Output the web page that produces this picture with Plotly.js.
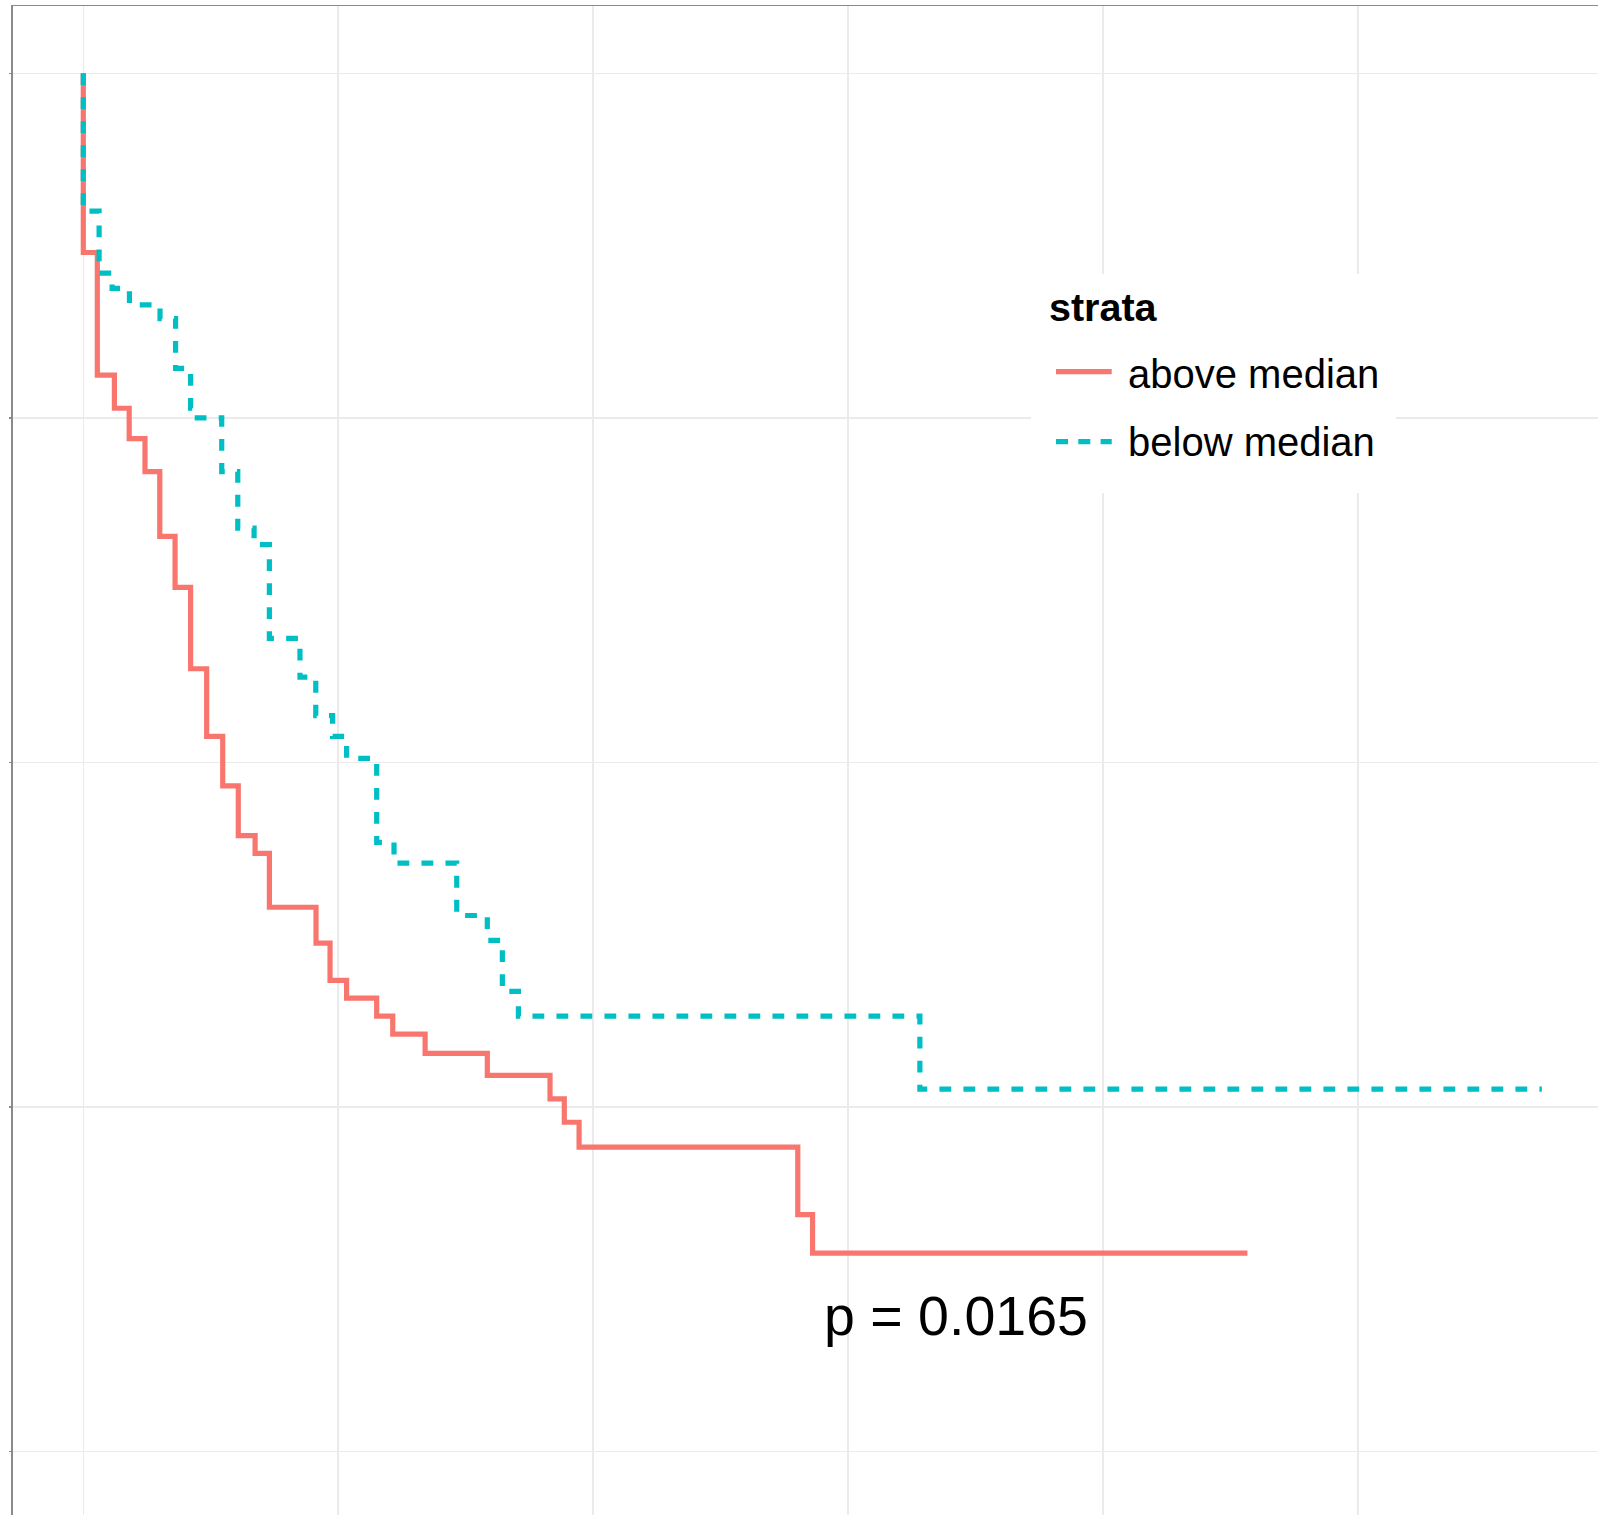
<!DOCTYPE html>
<html><head><meta charset="utf-8">
<script src="https://cdn.plot.ly/plotly-3.0.1.min.js"></script>
<style>html,body{margin:0;padding:0;background:#fff;overflow:hidden}#chart{width:1598px;height:1515px}</style>
</head><body><div id="chart"></div>
<script>
// ---- data ----
const seriesNames = ['above median', 'below median'];
const seriesColors = ['#F8766D', '#00BFC4'];
const legendTitle = 'strata';
const pValueText = 'p = 0.0165';

const aboveTime = [0, 0, 0.55, 1.22, 1.80, 2.42, 3.00, 3.60, 4.21, 4.84, 5.47, 6.08, 6.74, 7.30, 9.13, 9.68, 10.33, 11.51, 12.14, 13.41, 15.85, 18.31, 18.87, 19.45, 28.03, 28.61, 45.67];
const aboveSurv = [1, 0.870, 0.781, 0.757, 0.735, 0.711, 0.664, 0.627, 0.568, 0.519, 0.483, 0.447, 0.434, 0.395, 0.369, 0.342, 0.329, 0.316, 0.303, 0.289, 0.273, 0.256, 0.239, 0.221, 0.172, 0.144, 0.144];

const belowTime = [0, 0, 0.62, 1.13, 1.81, 3.01, 3.62, 4.21, 4.34, 5.43, 6.06, 6.70, 7.30, 8.50, 9.12, 9.78, 10.33, 11.51, 12.19, 14.65, 15.85, 16.44, 17.07, 32.82, 57.22];
const belowSurv = [1, 0.900, 0.855, 0.844, 0.832, 0.822, 0.786, 0.757, 0.750, 0.711, 0.670, 0.658, 0.590, 0.562, 0.534, 0.519, 0.503, 0.442, 0.427, 0.389, 0.371, 0.334, 0.316, 0.263, 0.263];

const xTicks = [0, 10, 20, 30, 40, 50];
const yTicks = [0, 0.25, 0.5, 0.75, 1];

// ---- layout geometry ----
const W = 1598, H = 1515, ML = 13, MT = 6;
const PW = W - ML, PH = H - MT;
const fx = px => (px - ML) / PW;
const fy = py => (H - py) / PH;
const FONT = 'Liberation Sans, Arial, Helvetica, sans-serif';

const traces = [
  {x: aboveTime, y: aboveSurv, name: seriesNames[0], type: 'scatter', mode: 'lines',
   line: {shape: 'hv', color: seriesColors[0], width: 5.2}, hoverinfo: 'skip', showlegend: false},
  {x: belowTime, y: belowSurv, name: seriesNames[1], type: 'scatter', mode: 'lines',
   line: {shape: 'hv', color: seriesColors[1], width: 5.2, dash: '11.8px,12.2px'}, hoverinfo: 'skip', showlegend: false}
];

const shapes = [
  {type: 'rect', xref: 'paper', yref: 'paper', x0: fx(1031), x1: fx(1396), y0: fy(493), y1: fy(274),
   fillcolor: '#ffffff', line: {width: 0}, layer: 'above'},
  {type: 'line', xref: 'paper', yref: 'paper', x0: fx(1056), x1: fx(1111.7), y0: fy(371.7), y1: fy(371.7),
   line: {color: seriesColors[0], width: 5.2}, layer: 'above'},
  {type: 'line', xref: 'paper', yref: 'paper', x0: fx(1056), x1: fx(1111.7), y0: fy(441.7), y1: fy(441.7),
   line: {color: seriesColors[1], width: 5.2, dash: '12px,10.3px'}, layer: 'above'}
];

const annotations = [
  {xref: 'paper', yref: 'paper', x: fx(1047), y: fy(307.2), xanchor: 'left', yanchor: 'middle', showarrow: false,
   text: '<b>' + legendTitle + '</b>', font: {family: FONT, size: 39.5, color: '#000'}},
  {xref: 'paper', yref: 'paper', x: fx(1125.5), y: fy(373.8), xanchor: 'left', yanchor: 'middle', showarrow: false,
   text: seriesNames[0], font: {family: FONT, size: 40, color: '#000'}},
  {xref: 'paper', yref: 'paper', x: fx(1125.5), y: fy(442.2), xanchor: 'left', yanchor: 'middle', showarrow: false,
   text: seriesNames[1], font: {family: FONT, size: 40, color: '#000'}},
  {xref: 'x', yref: 'y', x: 28.98, y: 0.0987, xanchor: 'left', yanchor: 'middle', showarrow: false,
   text: pValueText, font: {family: FONT, size: 55.5, color: '#000'}}
];

const layout = {
  width: W, height: H,
  margin: {l: ML, r: 0, t: MT, b: 0, pad: 0},
  paper_bgcolor: '#fff', plot_bgcolor: '#fff',
  showlegend: false,
  xaxis: {range: [(ML - 83.3) / 25.49, (W - 83.3) / 25.49], tickvals: xTicks, showticklabels: false,
          side: 'top', showline: true, linecolor: '#8a8a8a', linewidth: 1.5, ticks: '',
          showgrid: true, gridcolor: '#ebebeb', gridwidth: 1.6, zeroline: false},
  yaxis: {range: [(1451.7 - H) / 1378.4, (1451.7 - MT) / 1378.4], tickvals: yTicks, showticklabels: false,
          showline: true, linecolor: '#8a8a8a', linewidth: 2, ticks: 'outside', ticklen: 2, tickwidth: 1.5, tickcolor: '#8a8a8a',
          showgrid: true, gridcolor: '#ebebeb', gridwidth: 1.6, zeroline: false},
  shapes: shapes,
  annotations: annotations,
  font: {family: FONT}
};

Plotly.newPlot('chart', traces, layout, {staticPlot: true, displayModeBar: false});
</script>
</body></html>
